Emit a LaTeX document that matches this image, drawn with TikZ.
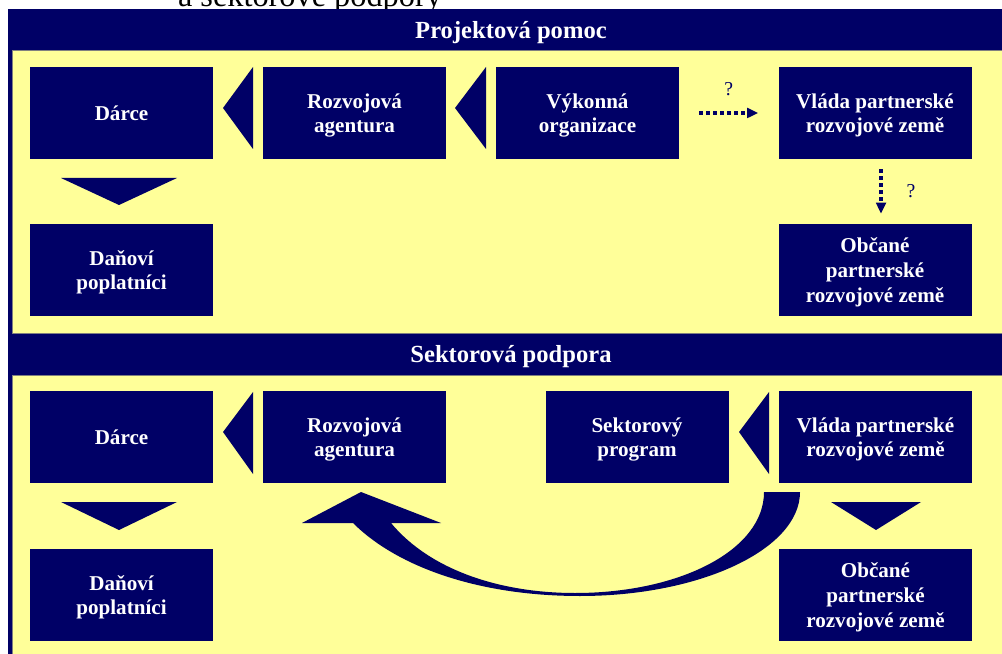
\documentclass[tikz,border=0pt]{standalone}
\usepackage{fontspec}
\setmainfont{Liberation Serif}
\usetikzlibrary{arrows.meta,calc}
\definecolor{navy}{RGB}{0,0,102}
\definecolor{pale}{RGB}{255,255,153}

\begin{document}
\begin{tikzpicture}[x=0.25mm, y=-0.25mm, node distance={58.25mm},
    main/.style = {fill=navy, text=white, font=\fontsize{15}{17.5}\selectfont\bfseries, align=center, minimum width=45.75mm, minimum height=23mm, inner sep=0pt, text depth=0pt},
    wide/.style = {main, minimum width=48.25mm},
    head/.style = {text=white, font=\fontsize{17.5}{20}\selectfont\bfseries, anchor=base},
    dotarrow/.style = {navy, line width=0.8mm, dash pattern=on 1mm off 0.75mm, -{Triangle[length=2.75mm, width=2.4mm]}, shorten <=5mm, shorten >=5mm},
    ask/.style = {font=\fontsize{14}{14}\selectfont, inner sep=0pt}]
    \useasboundingbox (0,0) rectangle (1002,654);

    \node[anchor=base, font=\fontsize{23}{23}\selectfont] (t) at (310,7) {a sektorové podpory};

    \fill[navy] (8,9) rectangle (1010,660);
    \filldraw[fill=pale, draw=gray, line width=0.3pt] (12,50) rectangle (1010,333);
    \filldraw[fill=pale, draw=gray, line width=0.3pt] (12,375) rectangle (1010,660);
    \node[head] (h1) at (511,39) {Projektová pomoc};
    \node[head] (h2) at (511,363) {Sektorová podpora};

    % projektova pomoc
    \node[main] (1) at (121.5,113) {Dárce};
    \node[main] (2) [right of=1] {Rozvojová\\agentura};
    \node[main] (3) [right of=2] {Výkonná\\organizace};
    \node[wide] (4) at (875,113) {Vláda partnerské\\rozvojové země};
    \node[main] (5) [node distance=39.25mm, below of=1] {Daňoví\\poplatníci};
    \node[wide] (6) [node distance=39.25mm, below of=4] {Občané\\partnerské\\rozvojové země};

    \fill[navy] (253,67) -- (223,108) -- (253,149) -- cycle;
    \fill[navy] (486,67) -- (455,108) -- (486,149) -- cycle;
    \fill[navy] (61,178) -- (177,178) -- (119,205) -- cycle;

    \draw[dotarrow] (3) -- (4) node[midway, above=4mm, ask] {?};
    \draw[dotarrow, shorten <=2.5mm, shorten >=2.5mm] ($(4.south)+(6,0)$) -- ($(6.north)+(6,0)$) node[midway, right=6mm, ask] {?};

    % sektorova podpora
    \node[main] (7) at (121.5,437) {Dárce};
    \node[main] (8) [right of=7] {Rozvojová\\agentura};
    \node[main] (9) at (637,437) {Sektorový\\program};
    \node[wide] (10) at (875.5,437) {Vláda partnerské\\rozvojové země};
    \node[main] (11) [node distance=39.5mm, below of=7] {Daňoví\\poplatníci};
    \node[wide] (12) [node distance=39.5mm, below of=10] {Občané\\partnerské\\rozvojové země};

    \fill[navy] (253,392) -- (223,432) -- (253,474) -- cycle;
    \fill[navy] (769,392) -- (739,432) -- (769,474) -- cycle;
    \fill[navy] (61,502) -- (177,502) -- (119,530) -- cycle;
    \fill[navy] (831,502) -- (921,502) -- (876,530) -- cycle;

    % big arrow back to the agency
    \fill[navy] (800,492) .. controls (800,549) and (701,596) .. (580,596)
        .. controls (475,596) and (395,565) .. (353,523)
        -- (302,523) -- (361,492) -- (441,523) -- (391,523)
        .. controls (430,570) and (500,593) .. (575,593)
        .. controls (680,593) and (764,550) .. (764,492) -- cycle;
\end{tikzpicture}
\end{document}
